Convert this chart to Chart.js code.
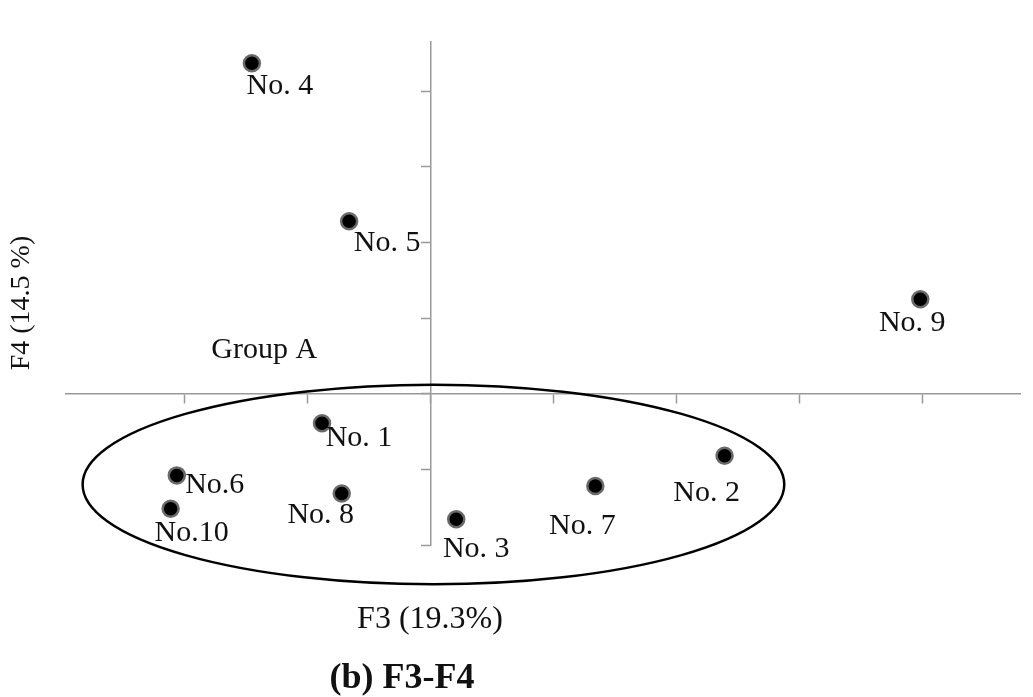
<!DOCTYPE html>
<html>
<head>
<meta charset="utf-8">
<script src="https://cdn.jsdelivr.net/npm/chart.js@4/dist/chart.umd.min.js"></script>
<style>
  html, body { margin: 0; padding: 0; background: #fff; }
  #wrap { width: 1033px; height: 697px; }
</style>
</head>
<body>
<div id="wrap"><canvas id="PcaChart"></canvas></div>
<script>
// sample names and their F3 / F4 scores
const samples = ["No. 1", "No. 2", "No. 3", "No. 4", "No. 5", "No.6", "No. 7", "No. 8", "No. 9", "No.10"];
const f3Scores = [-0.88, 2.39, 0.21, -1.45, -0.66, -2.06, 1.34, -0.72, 3.98, -2.11];
const f4Scores = [-0.39, -0.82, -1.66, 4.37, 2.28, -1.08, -1.22, -1.32, 1.25, -1.52];

const serif = "'Liberation Serif', 'Times New Roman', serif";

// text offset (px) of each label from its point
const labelOffsets = [
    [37, 15], [-18, 37], [20, 30], [28, 23], [38, 22],
    [38, 10], [-13, 40], [-21, 22], [-8, 24], [21, 24],
];

const pointLabels = {
    id: "pointLabels",
    afterDatasetsDraw(chart) {
        const ctx = chart.ctx;
        const meta = chart.getDatasetMeta(0);
        ctx.save();
        ctx.font = "30px " + serif;
        ctx.fillStyle = "#111";
        ctx.textAlign = "center";
        ctx.textBaseline = "middle";
        meta.data.forEach((pt, i) => {
            ctx.fillText(samples[i], pt.x + labelOffsets[i][0], pt.y + labelOffsets[i][1]);
        });
        ctx.restore();
    },
};

// Group A ellipse + texts
const extras = {
    id: "extras",
    beforeDatasetsDraw(chart) {
        const { ctx, scales: { x, y } } = chart;
        const cx = x.getPixelForValue(0.025);
        const cy = y.getPixelForValue(-1.2);
        const rx = x.getPixelForValue(0.025 + 2.85) - cx;
        const ry = cy - y.getPixelForValue(-1.2 + 1.32);
        ctx.save();
        ctx.beginPath();
        ctx.ellipse(cx, cy, rx, ry, 0, 0, Math.PI * 2);
        ctx.strokeStyle = "#000";
        ctx.lineWidth = 2.5;
        ctx.stroke();

        ctx.fillStyle = "#111";
        ctx.textAlign = "center";
        ctx.textBaseline = "middle";
        ctx.font = "30px " + serif;
        ctx.fillText("Group A", x.getPixelForValue(-1.35), y.getPixelForValue(0.58));
        ctx.font = "32px " + serif;
        ctx.fillText("F3 (19.3%)", 430, 620);

        ctx.font = "bold 36px " + serif;
        ctx.fillText("(b) F3-F4", 402, 679);

        ctx.translate(22, 303);
        ctx.rotate(-Math.PI / 2);
        ctx.font = "28px " + serif;
        ctx.fillText("F4 (14.5 %)", 0, 0);
        ctx.restore();
    },
};

const axisStyle = {
    type: "linear",
    grid: {
        drawOnChartArea: false,
        drawTicks: true,
        tickLength: 9,
        tickWidth: 1.5,
        color: "#9a9a9a",
    },
    border: { display: true, color: "#9a9a9a", width: 1.5 },
    ticks: { display: false, stepSize: 1, includeBounds: false },
};

new Chart(document.getElementById("PcaChart"), {
    type: "scatter",
    data: {
        labels: samples,
        datasets: [
            {
                data: f3Scores.map((v, i) => ({ x: v, y: f4Scores[i] })),
                backgroundColor: "#000",
                borderColor: "#6a6a6a",
                borderWidth: 2.5,
                pointRadius: 8,
                pointHoverRadius: 8,
                clip: false,
            },
        ],
    },
    options: {
        responsive: true,
        maintainAspectRatio: false,
        animation: false,
        layout: {
            padding: { left: 66, top: 42, right: 13, bottom: 152 },
        },
        scales: {
            x: { ...axisStyle, min: -2.96, max: 4.79, position: { y: 0 } },
            y: { ...axisStyle, min: -2, max: 4.65, position: { x: 0 } },
        },
        plugins: {
            legend: { display: false },
            tooltip: { enabled: false },
        },
    },
    plugins: [extras, pointLabels],
});
</script>
</body>
</html>
